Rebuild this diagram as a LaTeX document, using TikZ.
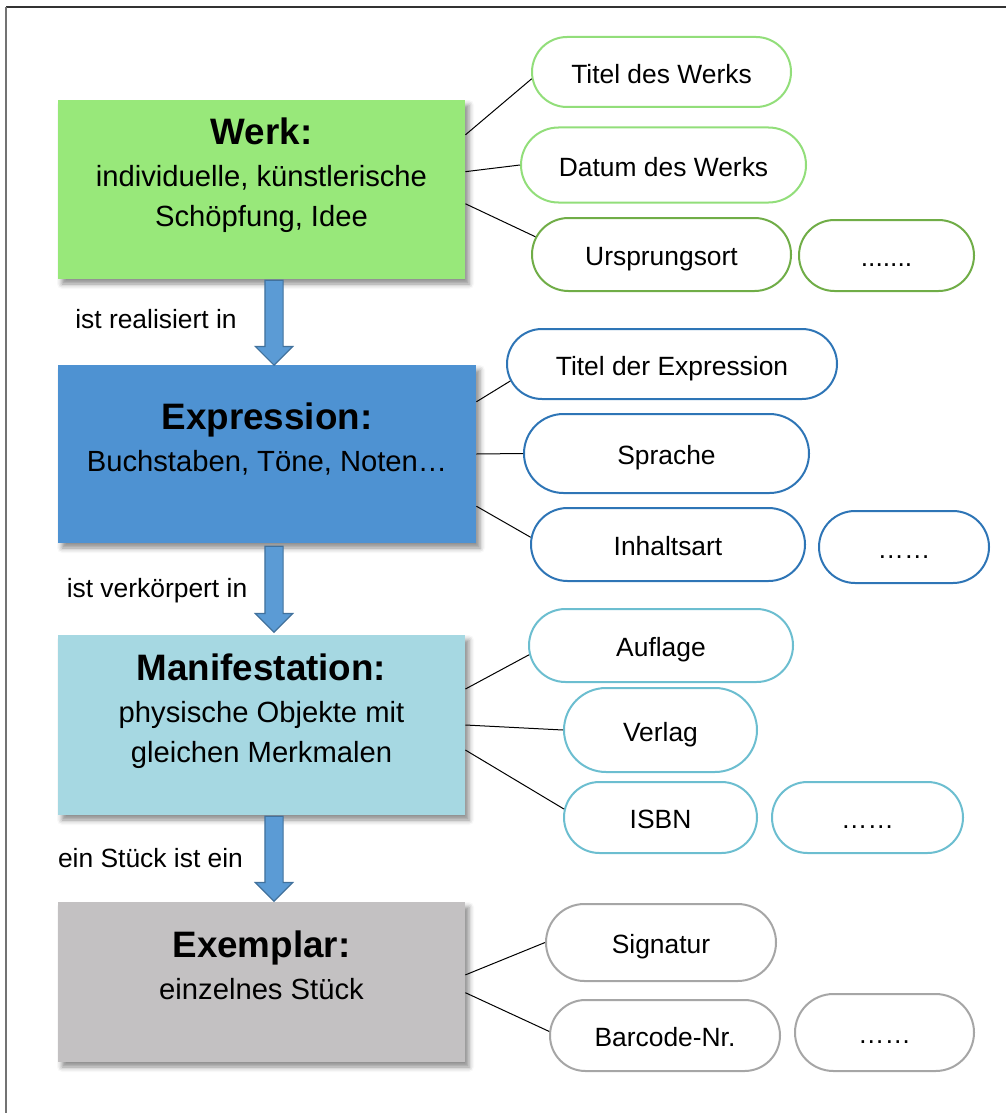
\documentclass[tikz,border=0pt]{standalone}
\usepackage{fontspec}
\setmainfont{Liberation Sans}
\usetikzlibrary{shapes.misc,shapes.arrows,shadows.blur,positioning}
\definecolor{werkgreen}{RGB}{152,232,122}
\definecolor{expblue}{RGB}{78,146,210}
\definecolor{manicyan}{RGB}{166,216,226}
\definecolor{exemgray}{RGB}{195,193,194}
\definecolor{arrowblue}{RGB}{91,155,213}
\definecolor{arrowedge}{RGB}{65,113,156}
\definecolor{werkline}{RGB}{146,222,122}
\definecolor{werkdark}{RGB}{112,173,71}
\definecolor{expline}{RGB}{46,117,182}
\definecolor{maniline}{RGB}{108,190,208}
\definecolor{exemline}{RGB}{166,166,166}
\newcommand{\titlefont}{\fontsize{18.4pt}{22pt}\selectfont\bfseries}
\newcommand{\subfont}{\fontsize{14.6pt}{20pt}\selectfont}
\newcommand{\attrfont}{\fontsize{13.2pt}{15pt}\selectfont}
\newcommand{\bottompad}{\rule[-17pt]{0pt}{0pt}}
\tikzstyle{entity} = [rectangle, inner sep=0pt, align=center, font=\subfont, blur shadow={shadow xshift=2pt, shadow yshift=-2.5pt, shadow blur radius=2.5pt, shadow opacity=45}]
\tikzstyle{attr} = [rounded rectangle, draw, line width=1pt, fill=white, inner sep=0pt, font=\attrfont, text height=11.8pt, text depth=0.4pt]
\tikzstyle{link} = [line width=0.5pt, black]
\tikzstyle{blockarrow} = [single arrow, shape border rotate=270, draw=arrowedge, fill=arrowblue, line width=0.6pt, inner sep=4.25pt, single arrow head extend=4.75pt, minimum height=42.5pt, anchor=tip]
\tikzstyle{lbl} = [font=\attrfont, inner sep=0pt, anchor=base]

\begin{document}
\begin{tikzpicture}[x=0.5pt, y=-0.5pt]
\useasboundingbox (0,0) rectangle (1006,1113);
\draw[black!80, line width=0.8pt] (6,7) -- (1006,7);
\draw[black!55, line width=0.8pt] (6,7) -- (6,1113);

% FRBR entities
\node (werk) [entity, fill=werkgreen, minimum width=203.5pt, minimum height=89.5pt] at (261.5,189.5) {{\titlefont Werk:}\\[1pt] individuelle, künstlerische\\ Schöpfung, Idee\bottompad};
\node (expr) [entity, fill=expblue, minimum width=209pt, minimum height=89pt] at (267,454) {{\titlefont Expression:}\\[1pt] Buchstaben, Töne, Noten…\bottompad};
\node (mani) [entity, fill=manicyan, minimum width=203.5pt, minimum height=90pt] at (261.5,725) {{\titlefont Manifestation:}\\[1pt] physische Objekte mit\\ gleichen Merkmalen\bottompad};
\node (exem) [entity, fill=exemgray, minimum width=203.5pt, minimum height=80pt] at (261.5,982) {{\titlefont Exemplar:}\\[1pt] einzelnes Stück\bottompad};

% relations
\node (arrA) [blockarrow] at (274,366) {};
\node (arrB) [blockarrow, minimum height=43pt] at (274,633) {};
\node (arrC) [blockarrow] at (274,902) {};
\node (lblA) [lbl] at (156,328) {ist realisiert in};
\node (lblB) [lbl] at (157,597) {ist verkörpert in};
\node (lblC) [lbl] at (150.5,867) {ein Stück ist ein};

% attributes of Werk
\node (titelwerk) [attr, draw=werkline, minimum width=129.5pt, minimum height=35pt] at (661.5,72) {Titel des Werks};
\node (datumwerk) [attr, draw=werkline, minimum width=142.5pt, minimum height=37.5pt] at (663.5,165) {Datum des Werks};
\node (ursprung) [attr, draw=werkdark, minimum width=129.5pt, minimum height=36.5pt] at (661.5,254.5) {Ursprungsort};
\node (dotswerk) [attr, draw=werkdark, minimum width=87.5pt, minimum height=35.5pt] at (886.5,255.5) {.......};

% attributes of Expression
\node (titelexp) [attr, draw=expline, minimum width=165pt, minimum height=35pt] at (672,364) {Titel der Expression};
\node (sprache) [attr, draw=expline, minimum width=142.5pt, minimum height=39.5pt] at (666.5,453.5) {Sprache};
\node (inhalt) [attr, draw=expline, minimum width=137pt, minimum height=36.5pt] at (668,544.5) {Inhaltsart};
\node (dotsexp) [attr, draw=expline, minimum width=85pt, minimum height=36pt] at (904,547) {……};

% attributes of Manifestation
\node (auflage) [attr, draw=maniline, minimum width=132pt, minimum height=36.5pt] at (661,645.5) {Auflage};
\node (verlag) [attr, draw=maniline, minimum width=96.5pt, minimum height=42pt] at (660.5,730) {Verlag};
\node (isbn) [attr, draw=maniline, minimum width=96.5pt, minimum height=35.5pt] at (660.5,817.5) {ISBN};
\node (dotsmani) [attr, draw=maniline, minimum width=95.5pt, minimum height=35.5pt] at (867.5,817.5) {……};

% attributes of Exemplar
\node (signatur) [attr, draw=exemline, minimum width=115pt, minimum height=38.5pt] at (661,942.5) {Signatur};
\node (barcode) [attr, draw=exemline, minimum width=115pt, minimum height=35.5pt] at (665,1035.5) {Barcode-Nr.};
\node (dotsexem) [attr, draw=exemline, minimum width=89.5pt, minimum height=38.5pt] at (884.5,1032.5) {……};

% links
\draw[link] (werk.15) -- (titelwerk.183);
\draw[link] (werk.5) -- (datumwerk.west);
\draw[link] (werk.-4) -- (ursprung.172);
\draw[link] (expr.14.7) -- (titelexp.186);
\draw[link] (expr.east) -- (sprache.west);
\draw[link] (expr.-14.2) -- (inhalt.177);
\draw[link] (mani.10.3) -- (auflage.184);
\draw[link] (mani.east) -- (verlag.west);
\draw[link] (mani.-7) -- (isbn.175);
\draw[link] (exem.2) -- (signatur.west);
\draw[link] (exem.-3.9) -- (barcode.178);
\end{tikzpicture}
\end{document}
